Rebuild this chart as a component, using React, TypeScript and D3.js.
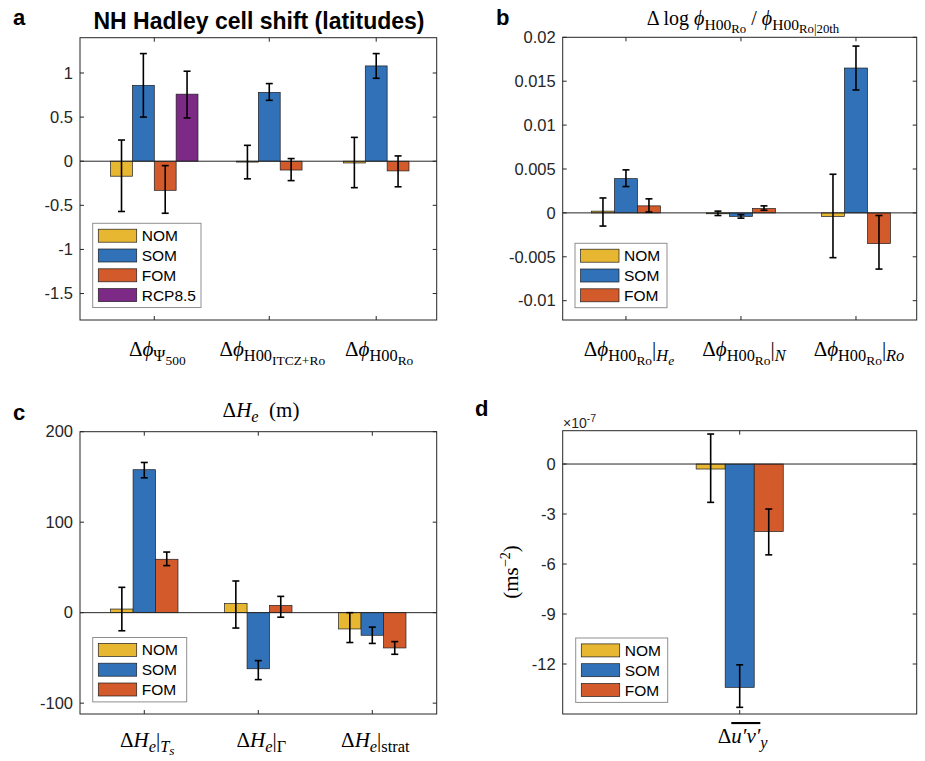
import React from "react";
import * as d3 from "d3";

// ---- data ----
const seriesNames = ["NOM", "SOM", "FOM", "RCP8.5"];
const seriesColors = ["#e8b731", "#3171b8", "#d35a2b", "#7d2a87"];

// panel a: NH Hadley cell shift (latitudes)
const aPos = [1, 2, 2.93];
const aNOM = [-0.17, -0.01, -0.02];
const aNOMlo = [-0.57, -0.2, -0.3];
const aNOMhi = [0.24, 0.18, 0.27];
const aSOM = [0.86, 0.78, 1.08];
const aSOMlo = [0.5, 0.69, 0.94];
const aSOMhi = [1.22, 0.88, 1.22];
const aFOM = [-0.33, -0.1, -0.11];
const aFOMlo = [-0.59, -0.22, -0.29];
const aFOMhi = [-0.05, 0.03, 0.06];
const aRCP = [0.76, NaN, NaN];
const aRCPlo = [0.49, NaN, NaN];
const aRCPhi = [1.02, NaN, NaN];
const aTicks = [1, 0.5, 0, -0.5, -1, -1.5];

// panel b: delta log phi
const bPos = [1, 2, 3];
const bNOM = [0.0002, -0.0001, -0.0004];
const bNOMlo = [-0.0015, -0.0003, -0.0051];
const bNOMhi = [0.0017, 0.0002, 0.0044];
const bSOM = [0.0039, -0.0004, 0.0165];
const bSOMlo = [0.003, -0.0006, 0.014];
const bSOMhi = [0.0049, -0.0002, 0.019];
const bFOM = [0.0008, 0.0005, -0.0035];
const bFOMlo = [0.0001, 0.0003, -0.0064];
const bFOMhi = [0.0016, 0.0008, -0.0003];
const bTicks = [0.02, 0.015, 0.01, 0.005, 0, -0.005, -0.01];

// panel c: delta He (m)
const cPos = [1, 2, 3];
const cNOM = [4, 10, -18];
const cNOMlo = [-20, -17, -33];
const cNOMhi = [28, 35, 0];
const cSOM = [158, -62, -25];
const cSOMlo = [149, -74, -34];
const cSOMhi = [166, -53, -16];
const cFOM = [59, 8, -39];
const cFOMlo = [52, -5, -46];
const cFOMhi = [67, 18, -32];
const cTicks = [200, 100, 0, -100];

// panel d: delta u'v'_y  (units of 1e-7 m s^-2)
const dPos = [1];
const dNOM = [-0.3];
const dNOMlo = [-2.3];
const dNOMhi = [1.8];
const dSOM = [-13.4];
const dSOMlo = [-14.6];
const dSOMhi = [-12.05];
const dFOM = [-4.05];
const dFOMlo = [-5.45];
const dFOMhi = [-2.7];
const dTicks = [0, -3, -6, -9, -12];

// math labels: [text, level, italic, overline]
type Seg = [string, number, boolean?, boolean?];
const phiHRo: Seg[] = [["Δ", 0], ["ϕ", 0, true], ["H00", 1], ["Ro", 2]];
const aLabels: Seg[][] = [
  [["Δ", 0], ["ϕ", 0, true], ["Ψ", 1], ["500", 2]],
  [["Δ", 0], ["ϕ", 0, true], ["H00", 1], ["ITCZ+Ro", 2]],
  phiHRo,
];
const bLabels: Seg[][] = [
  [...phiHRo, ["|", 0], ["H", 1, true], ["e", 2, true]],
  [...phiHRo, ["|", 0], ["N", 1, true]],
  [...phiHRo, ["|", 0], ["Ro", 1, true]],
];
const cLabels: Seg[][] = [
  [["Δ", 0], ["H", 0, true], ["e", 1, true], ["|", 0], ["T", 1, true], ["s", 2, true]],
  [["Δ", 0], ["H", 0, true], ["e", 1, true], ["|", 0], ["Γ", 1]],
  [["Δ", 0], ["H", 0, true], ["e", 1, true], ["|", 0], ["strat", 1]],
];
const dLabels: Seg[][] = [[["Δ", 0], ["u′v′", 0, true, true], ["y", 1, true]]];
const bTitle: Seg[] = [
  ["Δ log ", 0], ["ϕ", 0, true], ["H00", 1], ["Ro", 2], [" / ", 0],
  ["ϕ", 0, true], ["H00", 1], ["Ro|20th", 2],
];
const cTitle: Seg[] = [["Δ", 0], ["H", 0, true], ["e", 1, true], ["  (m)", 0]];
const dYLabel: Seg[] = [["(ms", 0], ["−2", -1], [")", 0]];

const AX = "#262626";
const SANS = "'Liberation Sans', Arial, Helvetica, sans-serif";
const SERIF = "'Liberation Serif', 'DejaVu Serif', serif";

const lvlOff: Record<number, number> = { 0: 0, 1: 0.26, 2: 0.42, [-1]: -0.4 };
const lvlSize: Record<number, number> = { 0: 1, 1: 0.78, 2: 0.64, [-1]: 0.68 };

function MathText({ segs, x, y, size = 21, rotate = false }: any) {
  let prev = 0;
  return (
    <text
      x={x}
      y={y}
      textAnchor="middle"
      fontFamily={SERIF}
      fill="#000"
      style={{ whiteSpace: "pre" }}
      transform={rotate ? `rotate(-90, ${x}, ${y})` : undefined}
    >
      {segs.map((s: Seg, i: number) => {
        const [t, lvl, it, ov] = s;
        const dy = (lvlOff[lvl] - lvlOff[prev]) * size;
        prev = lvl;
        return (
          <tspan
            key={i}
            dy={dy}
            fontSize={size * lvlSize[lvl]}
            fontStyle={it ? "italic" : "normal"}
            style={ov ? { textDecoration: "overline" } : undefined}
          >
            {t}
          </tspan>
        );
      })}
    </text>
  );
}

type Series = { name: string; color: string; values: number[]; lo: number[]; hi: number[] };

function mk(vals: number[][][]): Series[] {
  return vals.map(([v, lo, hi], i) => ({
    name: seriesNames[i],
    color: seriesColors[i],
    values: v,
    lo,
    hi,
  }));
}

function BarPanel({ box, xDomain, yDomain, pos, series, barW, ticks, legend, labels, labelY, fmt }: any) {
  const x = d3.scaleLinear().domain(xDomain).range([box.x0, box.x1]);
  const y = d3.scaleLinear().domain(yDomain).range([box.y1, box.y0]);
  const bars: any[] = [];
  pos.forEach((p: number, i: number) => {
    const act = series.filter((s: Series) => Number.isFinite(s.values[i]));
    act.forEach((s: Series, k: number) => {
      const cx = p + (k - (act.length - 1) / 2) * barW;
      bars.push({ s, cx, v: s.values[i], lo: s.lo[i], hi: s.hi[i], key: `${i}-${k}` });
    });
  });
  const tl = 4;
  const rowH = 19.8;
  const legW = legend.w;
  const legH = 24.8 + (series.length - 1) * rowH;
  return (
    <g>
      {bars.map((b) => (
        <rect
          key={b.key}
          x={x(b.cx - barW / 2)}
          width={x(b.cx + barW / 2) - x(b.cx - barW / 2)}
          y={y(Math.max(b.v, 0))}
          height={Math.abs(y(b.v) - y(0))}
          fill={b.s.color}
          stroke="#1e1e1e"
          strokeWidth={0.7}
        />
      ))}
      <line x1={box.x0} x2={box.x1} y1={y(0)} y2={y(0)} stroke={AX} strokeWidth={1} />
      {bars.map((b) => (
        <g key={"e" + b.key} stroke="#000" strokeWidth={1.6}>
          <line x1={x(b.cx)} x2={x(b.cx)} y1={y(b.lo)} y2={y(b.hi)} />
          <line x1={x(b.cx) - 3.5} x2={x(b.cx) + 3.5} y1={y(b.lo)} y2={y(b.lo)} />
          <line x1={x(b.cx) - 3.5} x2={x(b.cx) + 3.5} y1={y(b.hi)} y2={y(b.hi)} />
        </g>
      ))}
      <rect
        x={box.x0}
        y={box.y0}
        width={box.x1 - box.x0}
        height={box.y1 - box.y0}
        fill="none"
        stroke={AX}
        strokeWidth={1}
      />
      {ticks.map((t: number) => (
        <g key={"t" + t}>
          <line x1={box.x0} x2={box.x0 + tl} y1={y(t)} y2={y(t)} stroke={AX} />
          <line x1={box.x1} x2={box.x1 - tl} y1={y(t)} y2={y(t)} stroke={AX} />
          <text
            x={box.x0 - 7}
            y={y(t)}
            dy="0.35em"
            textAnchor="end"
            fontFamily={SANS}
            fontSize={16.5}
            fill={AX}
          >
            {fmt(t)}
          </text>
        </g>
      ))}
      {pos.map((p: number, i: number) => (
        <g key={"x" + i}>
          <line x1={x(p)} x2={x(p)} y1={box.y1} y2={box.y1 - tl} stroke={AX} />
          <line x1={x(p)} x2={x(p)} y1={box.y0} y2={box.y0 + tl} stroke={AX} />
          <MathText segs={labels[i]} x={x(p) + 3} y={labelY} />
        </g>
      ))}
      <g transform={`translate(${legend.x},${legend.y})`}>
        <rect width={legW} height={legH} fill="#fff" stroke="#8f8f8f" strokeWidth={1} />
        {series.map((s: Series, i: number) => (
          <g key={s.name} transform={`translate(0,${12.4 + i * rowH})`}>
            <rect x={5.6} y={-6.5} width={38.4} height={13} fill={s.color} stroke="#1e1e1e" strokeWidth={0.7} />
            <text x={49} y={0} dy="0.36em" fontFamily={SANS} fontSize={15.5} fill="#000">
              {s.name}
            </text>
          </g>
        ))}
      </g>
    </g>
  );
}

const fmtNum = (v: number) => String(+v.toFixed(4));

export default function App() {
  const letter = (t: string, x: number, y: number) => (
    <text x={x} y={y} fontFamily={SANS} fontWeight="bold" fontSize={22} fill="#000">
      {t}
    </text>
  );
  return (
    <svg
      width={925}
      height={761}
      style={{ position: "absolute", left: 0, top: 0, background: "#fff" }}
    >
      {letter("a", 13, 25)}
      <text x={259} y={29} textAnchor="middle" fontFamily={SANS} fontWeight="bold" fontSize={23} fill="#000">
        NH Hadley cell shift (latitudes)
      </text>
      <BarPanel
        box={{ x0: 80, x1: 436.7, y0: 37.7, y1: 320 }}
        xDomain={[0.354, 3.456]}
        yDomain={[-1.8, 1.4]}
        pos={aPos}
        series={mk([
          [aNOM, aNOMlo, aNOMhi],
          [aSOM, aSOMlo, aSOMhi],
          [aFOM, aFOMlo, aFOMhi],
          [aRCP, aRCPlo, aRCPhi],
        ])}
        barW={0.19}
        ticks={aTicks}
        legend={{ x: 92.7, y: 223.3, w: 108.3 }}
        labels={aLabels}
        labelY={356}
        fmt={fmtNum}
      />

      {letter("b", 496, 25)}
      <MathText segs={bTitle} x={743} y={25} size={20} />
      <BarPanel
        box={{ x0: 562.7, x1: 916.7, y0: 37.3, y1: 320 }}
        xDomain={[0.45, 3.528]}
        yDomain={[-0.0122, 0.02]}
        pos={bPos}
        series={mk([
          [bNOM, bNOMlo, bNOMhi],
          [bSOM, bSOMlo, bSOMhi],
          [bFOM, bFOMlo, bFOMhi],
        ])}
        barW={0.2}
        ticks={bTicks}
        legend={{ x: 575, y: 243.3, w: 92 }}
        labels={bLabels}
        labelY={356}
        fmt={fmtNum}
      />

      {letter("c", 13, 420)}
      <MathText segs={cTitle} x={261} y={416.7} />
      <BarPanel
        box={{ x0: 80, x1: 436.7, y0: 431.7, y1: 714 }}
        xDomain={[0.436, 3.565]}
        yDomain={[-112, 200]}
        pos={cPos}
        series={mk([
          [cNOM, cNOMlo, cNOMhi],
          [cSOM, cSOMlo, cSOMhi],
          [cFOM, cFOMlo, cFOMhi],
        ])}
        barW={0.197}
        ticks={cTicks}
        legend={{ x: 92.7, y: 637.5, w: 94 }}
        labels={cLabels}
        labelY={746.5}
        fmt={fmtNum}
      />

      {letter("d", 475, 416)}
      <text x={563} y={428} fontFamily={SANS} fontSize={14} fill={AX}>
        ×10
        <tspan dy={-6} fontSize={10.5}>
          -7
        </tspan>
      </text>
      <MathText segs={dYLabel} x={518} y={572} rotate />
      <BarPanel
        box={{ x0: 562.7, x1: 916.7, y0: 430.7, y1: 714 }}
        xDomain={[0.5, 1.5]}
        yDomain={[-15, 2]}
        pos={dPos}
        series={mk([
          [dNOM, dNOMlo, dNOMhi],
          [dSOM, dSOMlo, dSOMhi],
          [dFOM, dFOMlo, dFOMhi],
        ])}
        barW={0.082}
        ticks={dTicks}
        legend={{ x: 575.7, y: 638, w: 92 }}
        labels={dLabels}
        labelY={743}
        fmt={fmtNum}
      />
    </svg>
  );
}
